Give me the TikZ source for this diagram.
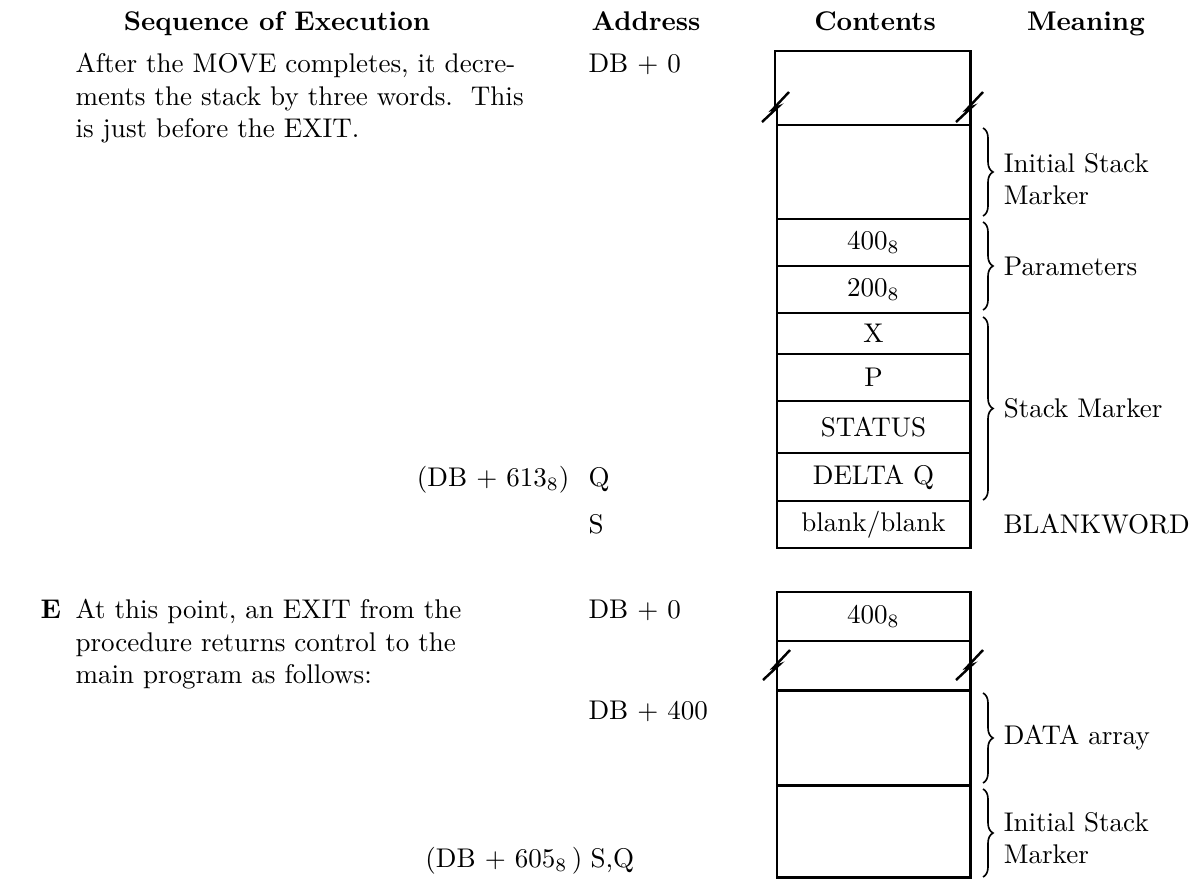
\documentclass[tikz,border=0pt]{standalone}
\usetikzlibrary{decorations.pathreplacing,positioning}
\newcommand\pxu{0.37pt}

\begin{document}
\begin{tikzpicture}[x=\pxu,y=-\pxu,
  every node/.style={inner sep=0pt},
  head/.style={font=\bfseries,anchor=base},
  tag/.style={anchor=base west},
  frame/.style={line width=1.1pt},
  cell/.style={draw,frame,outer sep=0pt,minimum width=193*\pxu},
  zig/.style={line width=.9pt,line join=miter},
  curly/.style={line width=.6pt,decorate,decoration={brace,amplitude=3.7pt}},
  meaning/.style={anchor=west,align=left,xshift=20*\pxu},
  zigbreak/.pic={\draw[zig] (13,-15) -- (-3,2) -- (2,0) -- (-14,15);}]
  \useasboundingbox (0,0) rectangle (1203,880);

  \node[head] (hseq) at (277,30) {Sequence of Execution};
  \node[head] (hadr) at (646,30) {Address};
  \node[head] (hcon) at (875,30) {Contents};
  \node[head] (hmea) at (1086,30) {Meaning};

  % before the EXIT
  \node[anchor=north west,align=left] (stepd) at (75,53)
    {After the MOVE completes, it decre-\\ments the stack by three words.\ \ This\\is just before the EXIT.};
  \node[tag] (adbz) at (588,72) {DB + 0};
  \node[anchor=base east] (aoff) at (570,486) {(DB + 613$_8$)};
  \node[tag] (aq) at (588,486) {Q};
  \node[tag] (as) at (588,533) {S};

  \draw[frame] (775,106) |- (970,51) -- (970,106);
  \pic at (776,107) {zigbreak};
  \pic at (970,107) {zigbreak};
  \node[cell,minimum height=94*\pxu] (tini) at (873.5,172) {};
  \draw[frame] (777,109) -- (tini.north west) (970,109) -- (tini.north east);
  \node[cell,minimum height=47*\pxu,below=0pt of tini] (tpa) {$400_8$};
  \node[cell,minimum height=47*\pxu,below=0pt of tpa] (tpb) {$200_8$};
  \node[cell,minimum height=41*\pxu,below=0pt of tpb] (tx) {X};
  \node[cell,minimum height=47*\pxu,below=0pt of tx] (tp) {P};
  \node[cell,minimum height=52*\pxu,below=0pt of tp] (tst) {STATUS};
  \node[cell,minimum height=48*\pxu,below=0pt of tst] (tdq) {DELTA Q};
  \node[cell,minimum height=47*\pxu,below=0pt of tdq] (tbl) {blank/blank};

  \draw[curly] ([shift={(13,3)}]tini.north east) -- node[meaning,yshift=-7*\pxu] (mtini) {Initial Stack\\Marker} ([shift={(13,-3)}]tini.south east);
  \draw[curly] ([shift={(13,3)}]tpa.north east) -- node[meaning] (mprm) {Parameters} ([shift={(13,-3)}]tpb.south east);
  \draw[curly] ([shift={(13,4)}]tx.north east) -- node[meaning] (mstk) {Stack Marker} ([shift={(13,-1)}]tdq.south east);
  \node[right=12.2pt of tbl] (mblk) {BLANKWORD};

  % the EXIT
  \node[tag,font=\bfseries] (ee) at (40,618) {E};
  \node[anchor=north west,align=left] (stepe) at (75,599)
    {At this point, an EXIT from the\\procedure returns control to the\\main program as follows:};
  \node[tag] (bdbz) at (588,618) {DB + 0};
  \node[tag] (bdbf) at (588,719) {DB + 400};
  \node[anchor=base east] (boff) at (583,867) {(DB + 605$_8$\,)};
  \node[tag] (bsq) at (590,867) {S,Q};

  \node[cell,minimum height=49*\pxu] (bpa) at (873.5,616.5) {$400_8$};
  \pic at (777,665) {zigbreak};
  \pic at (970,665) {zigbreak};
  \node[cell,minimum height=95*\pxu] (bdat) at (873.5,737.5) {};
  \node[cell,minimum height=92*\pxu,below=0pt of bdat] (bini) {};
  \draw[frame] (bpa.south west) -- (777,664) (777,667) -- (bdat.north west);
  \draw[frame] (bpa.south east) -- (970,664) (970,667) -- (bdat.north east);

  \draw[curly] ([shift={(13,3)}]bdat.north east) -- node[meaning] (mdat) {DATA array} ([shift={(13,-2)}]bdat.south east);
  \draw[curly] ([shift={(13,4)}]bini.north east) -- node[meaning,yshift=-5*\pxu] (mbin) {Initial Stack\\Marker} (bini.south east -| 983,0);
\end{tikzpicture}
\end{document}
